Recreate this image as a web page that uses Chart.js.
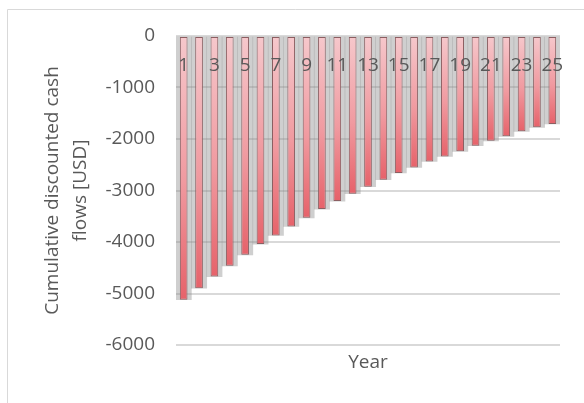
<!DOCTYPE html>
<html>
<head>
<meta charset="utf-8">
<script src="https://cdn.jsdelivr.net/npm/chart.js@4.4.1/dist/chart.umd.min.js"></script>
<style>
  html, body { margin: 0; padding: 0; background: #ffffff; overflow: hidden; }
  canvas { display: block; }
</style>
</head>
<body>
<canvas id="chart" width="584" height="403"></canvas>
<script>
// Project years and the cumulative discounted cash flow at the end of each year (USD)
const years = ['1','2','3','4','5','6','7','8','9','10','11','12','13',
               '14','15','16','17','18','19','20','21','22','23','24','25'];
const cumulativeCashFlow = [-5120, -4897, -4671, -4463, -4249, -4041, -3874, -3699,
                            -3530, -3361, -3205, -3063, -2927, -2791, -2661, -2551,
                            -2435, -2338, -2240, -2130, -2035, -1949, -1851, -1774, -1708];
const yAxisRange = { min: -6000, max: 0, step: 1000 };
const yTitle = ['Cumulative discounted cash', 'flows [USD]'];
const xTitle = 'Year';

const TEXT = '#595959';
const FONT = 'Open Sans';

// Each column fades from pale pink at the zero line to red at its own tip
function columnFill(ctx) {
  const chart = ctx.chart;
  const y = chart.scales.y;
  if (!chart.chartArea || !y || ctx.type !== 'data') return '#ec7e84';
  const y0 = y.getPixelForValue(0);
  const y1 = y.getPixelForValue(ctx.raw);
  const g = chart.ctx.createLinearGradient(0, y0, 0, y1);
  g.addColorStop(0, '#f6c8cc');
  g.addColorStop(0.55, '#f09aa0');
  g.addColorStop(1, '#e6626a');
  return g;
}

// Thin frame along the top and left of the chart box
const frame = {
  id: 'frame',
  beforeDraw(chart) {
    const c = chart.ctx;
    c.save();
    c.strokeStyle = '#d9d9d9';
    c.lineWidth = 1;
    c.beginPath();
    c.moveTo(7.5, chart.height);
    c.lineTo(7.5, 9.5);
    c.lineTo(chart.width, 9.5);
    c.stroke();
    c.restore();
  }
};

new Chart(document.getElementById('chart'), {
  type: 'bar',
  data: {
    labels: years,
    datasets: [
      {
        // columns
        data: cumulativeCashFlow,
        backgroundColor: columnFill,
        borderColor: '#8c5f62',
        borderWidth: 1,
        borderSkipped: false,
        barPercentage: 0.5,
        categoryPercentage: 1,
        grouped: false,
        order: 1
      },
      {
        // soft shadow cast behind the columns
        data: cumulativeCashFlow,
        backgroundColor: 'rgba(140,140,140,0.42)',
        borderWidth: 0,
        barPercentage: 1,
        categoryPercentage: 1,
        grouped: false,
        order: 2
      }
    ]
  },
  options: {
    responsive: false,
    animation: false,
    devicePixelRatio: 1,
    layout: { padding: { top: 36, right: 24, bottom: 0, left: 0 } },
    plugins: { legend: { display: false }, tooltip: { enabled: false } },
    scales: {
      x: {
        type: 'category',
        position: { y: -300 },
        offset: true,
        grid: { display: false, drawTicks: false },
        border: { display: false },
        ticks: {
          z: 1,
          autoSkip: false,
          maxRotation: 0,
          padding: 3,
          color: TEXT,
          font: { family: FONT, size: 19 },
          callback: (v, i) => (i % 2 === 0 ? years[i] : '')
        }
      },
      xTitle: {
        type: 'category',
        position: 'bottom',
        offset: true,
        grid: { display: false },
        border: { display: false },
        ticks: { display: false },
        title: {
          display: true,
          text: xTitle,
          color: TEXT,
          font: { family: FONT, size: 19 },
          padding: { top: 0, bottom: 29 }
        },
        afterFit(s) { s.height = 58; }
      },
      y: {
        min: yAxisRange.min,
        max: yAxisRange.max,
        grid: { color: '#d9d9d9', lineWidth: 2, drawTicks: false },
        border: { display: false },
        ticks: {
          stepSize: yAxisRange.step,
          padding: 21,
          color: TEXT,
          font: { family: FONT, size: 19 },
          callback: (v) => String(v)
        },
        title: {
          display: true,
          text: yTitle,
          color: TEXT,
          font: { family: FONT, size: 19, lineHeight: 1.45 },
          padding: { top: 39, bottom: 0 }
        },
        afterFit(s) { s.width = 176; }
      }
    }
  },
  plugins: [frame]
});
</script>
</body>
</html>
